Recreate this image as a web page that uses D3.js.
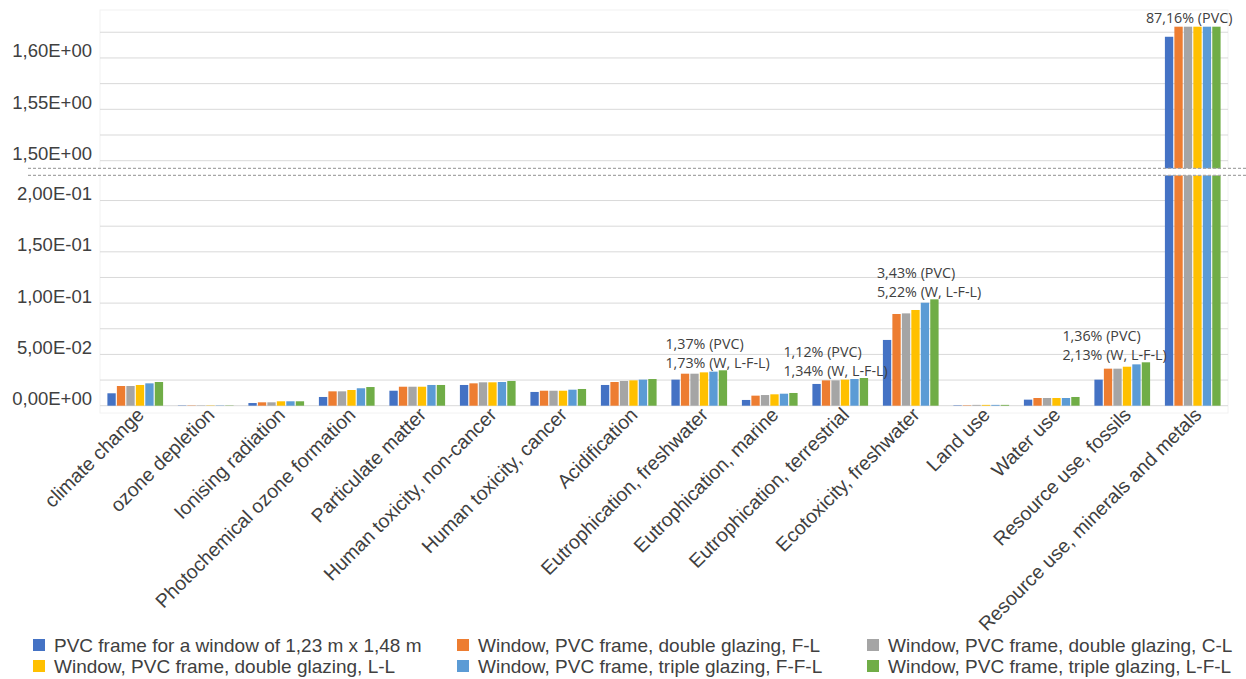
<!DOCTYPE html>
<html>
<head>
<meta charset="utf-8">
<script src="https://cdn.jsdelivr.net/npm/d3@7"></script>
<style>
  body { margin: 0; background: #fff; }
  svg { display: block; }
</style>
</head>
<body>
<script>
// categories (impact categories)
var categories = [
  "climate change", "ozone depletion", "Ionising radiation",
  "Photochemical ozone formation", "Particulate matter",
  "Human toxicity, non-cancer", "Human toxicity, cancer", "Acidification",
  "Eutrophication, freshwater", "Eutrophication, marine",
  "Eutrophication, terrestrial", "Ecotoxicity, freshwater", "Land use",
  "Water use", "Resource use, fossils", "Resource use, minerals and metals"
];

var seriesNames = [
  "PVC frame for a window of 1,23 m x 1,48 m",
  "Window, PVC frame, double glazing, F-L",
  "Window, PVC frame, double glazing, C-L",
  "Window, PVC frame, double glazing, L-L",
  "Window, PVC frame, triple glazing, F-F-L",
  "Window, PVC frame, triple glazing, L-F-L"
];

var colors = ["#4472C4", "#ED7D31", "#A5A5A5", "#FFC000", "#5B9BD5", "#70AD47"];

// one array per series, in category order
var pvcFrame = [0.0121, 0.0003, 0.0026, 0.0085, 0.0146, 0.0202, 0.0134, 0.0202, 0.0254, 0.0056, 0.0212, 0.0641, 0.0004, 0.0059, 0.0254, 1.6206];
var doubleFL = [0.0192, 0.0003, 0.0033, 0.0140, 0.0185, 0.0218, 0.0146, 0.0231, 0.0312, 0.0098, 0.0247, 0.0894, 0.0004, 0.0075, 0.0361, 1.66];
var doubleCL = [0.0192, 0.0003, 0.0033, 0.0140, 0.0185, 0.0228, 0.0146, 0.0241, 0.0312, 0.0104, 0.0247, 0.0900, 0.0008, 0.0075, 0.0361, 1.66];
var doubleLL = [0.0202, 0.0003, 0.0043, 0.0153, 0.0185, 0.0228, 0.0146, 0.0247, 0.0325, 0.0111, 0.0254, 0.0933, 0.0008, 0.0075, 0.0380, 1.67];
var tripleFFL = [0.0218, 0.0003, 0.0043, 0.0170, 0.0202, 0.0231, 0.0156, 0.0254, 0.0332, 0.0117, 0.0260, 0.1004, 0.0008, 0.0075, 0.0403, 1.68];
var tripleLFL = [0.0231, 0.0003, 0.0043, 0.0182, 0.0202, 0.0241, 0.0163, 0.0260, 0.0345, 0.0124, 0.0270, 0.1037, 0.0008, 0.0085, 0.0423, 1.69];
var series = [pvcFrame, doubleFL, doubleCL, doubleLL, tripleFFL, tripleLFL];

// tick values on both sides of the axis break
var lowerTicks = [0, 0.05, 0.1, 0.15, 0.2];
var upperTicks = [1.5, 1.55, 1.6];
var lowerGrid = [0, 0.025, 0.05, 0.075, 0.1, 0.125, 0.15, 0.175, 0.2];
var upperGrid = [1.5, 1.525, 1.55, 1.575, 1.6, 1.625];

// notes written above some groups
var noteCategory = ["Eutrophication, freshwater", "Eutrophication, terrestrial", "Ecotoxicity, freshwater", "Resource use, fossils"];
var noteLine1 = ["1,37% (PVC)", "1,12% (PVC)", "3,43% (PVC)", "1,36% (PVC)"];
var noteLine2 = ["1,73% (W, L-F-L)", "1,34% (W, L-F-L)", "5,22% (W, L-F-L)", "2,13% (W, L-F-L)"];
var topNote = "87,16% (PVC)";

var w = 1246, h = 679;
var left = 100, right = 1228;
var breakLow = 0.2245, breakHigh = 1.4925;

var svg = d3.select("body").append("svg").attr("width", w).attr("height", h);

var x = d3.scaleBand().domain(categories).range([left, right]).paddingInner(0.21).paddingOuter(0.105);
var xs = d3.scaleBand().domain(d3.range(6)).range([0, x.bandwidth()]).paddingInner(0.12);

// piecewise y scale: lower part 0..0.2245, gap, upper part 1.4925..
var y = d3.scaleLinear()
  .domain([0, breakLow, breakHigh, 1.6304])
  .range([405.7, 175.4, 168.4, 26.7])
  .clamp(true);

function fmt(v) {
  var s = v.toExponential(2).split("e");
  var ex = parseInt(s[1], 10);
  var sign = ex < 0 ? "-" : "+";
  var e2 = String(Math.abs(ex)).padStart(2, "0");
  return s[0].replace(".", ",") + "E" + sign + e2;
}

// faint plot area border
svg.append("rect")
  .attr("x", left).attr("y", 10).attr("width", right - left).attr("height", 403)
  .attr("fill", "none").attr("stroke", "#f2f2f2");

// gridlines
svg.selectAll("line.grid")
  .data(lowerGrid.concat(upperGrid))
  .enter().append("line")
  .attr("class", "grid")
  .attr("x1", left).attr("x2", right)
  .attr("y1", d => y(d)).attr("y2", d => y(d))
  .attr("stroke", "#d9d9d9").attr("stroke-width", 1);

// y labels
svg.selectAll("text.ytick")
  .data(lowerTicks.concat(upperTicks))
  .enter().append("text")
  .attr("class", "ytick")
  .attr("x", 92).attr("y", d => y(d) - 0.5)
  .attr("text-anchor", "end")
  .attr("font-family", "Liberation Sans, Arial, sans-serif")
  .attr("font-size", 18.5)
  .attr("fill", "#404040")
  .text(fmt);

// bars
var groups = svg.selectAll("g.cat")
  .data(categories)
  .enter().append("g")
  .attr("class", "cat")
  .attr("transform", d => "translate(" + x(d) + ",0)");

groups.selectAll("rect")
  .data((d, i) => series.map((s, j) => ({ j: j, v: s[i] })))
  .enter().append("rect")
  .attr("x", d => xs(d.j))
  .attr("width", xs.bandwidth())
  .attr("y", d => y(d.v))
  .attr("height", d => y(0) - y(d.v))
  .attr("fill", d => colors[d.j]);

// axis break: white gap plus dashed lines
svg.append("rect")
  .attr("x", 28).attr("y", y(breakHigh)).attr("width", w - 28)
  .attr("height", y(breakLow) - y(breakHigh))
  .attr("fill", "#fff");
[breakHigh, breakLow].forEach(function (b) {
  svg.append("line")
    .attr("x1", 28).attr("x2", w)
    .attr("y1", y(b)).attr("y2", y(b))
    .attr("stroke", "#a6a6a6").attr("stroke-width", 1.3)
    .attr("stroke-dasharray", "3,2");
});

// category labels
svg.selectAll("text.xlab")
  .data(categories)
  .enter().append("text")
  .attr("class", "xlab")
  .attr("transform", d => "translate(" + (x(d) + x.bandwidth() / 2 + 10) + ",416) rotate(-45)")
  .attr("text-anchor", "end")
  .attr("font-family", "Liberation Sans, Arial, sans-serif")
  .attr("font-size", 19.5)
  .attr("fill", "#404040")
  .text(d => d);

// notes (text boxes sit a little left of some groups)
var noteFont = "Open Sans, sans-serif";
var noteShift = [-6, -29, -6, -32];
noteCategory.forEach(function (c, i) {
  var idx = categories.indexOf(c);
  var tallest = d3.max(series, s => s[idx]);
  var nx = x(c) + noteShift[i];
  var ny = y(tallest) - 2;
  svg.append("text")
    .attr("x", nx).attr("y", ny - 19)
    .attr("font-family", noteFont).attr("font-size", 14.3)
    .attr("fill", "#404040")
    .text(noteLine1[i]);
  svg.append("text")
    .attr("x", nx).attr("y", ny)
    .attr("font-family", noteFont).attr("font-size", 14.3)
    .attr("fill", "#404040")
    .text(noteLine2[i]);
});

svg.append("text")
  .attr("x", x(categories[15]) - 19).attr("y", 23)
  .attr("font-family", noteFont).attr("font-size", 14.3)
  .attr("fill", "#404040")
  .text(topNote);

// legend, three columns by two rows
var legX = [33, 457, 867];
var legY = [645, 666];
var legend = svg.selectAll("g.leg")
  .data(seriesNames)
  .enter().append("g")
  .attr("class", "leg")
  .attr("transform", (d, i) => "translate(" + legX[i % 3] + "," + legY[Math.floor(i / 3)] + ")");

legend.append("rect")
  .attr("x", 0).attr("y", -6).attr("width", 12).attr("height", 12)
  .attr("fill", (d, i) => colors[i]);

legend.append("text")
  .attr("x", 21).attr("y", 0).attr("dy", "0.35em")
  .attr("font-family", "Liberation Sans, Arial, sans-serif")
  .attr("font-size", 19)
  .attr("fill", "#404040")
  .text(d => d);
</script>
</body>
</html>
